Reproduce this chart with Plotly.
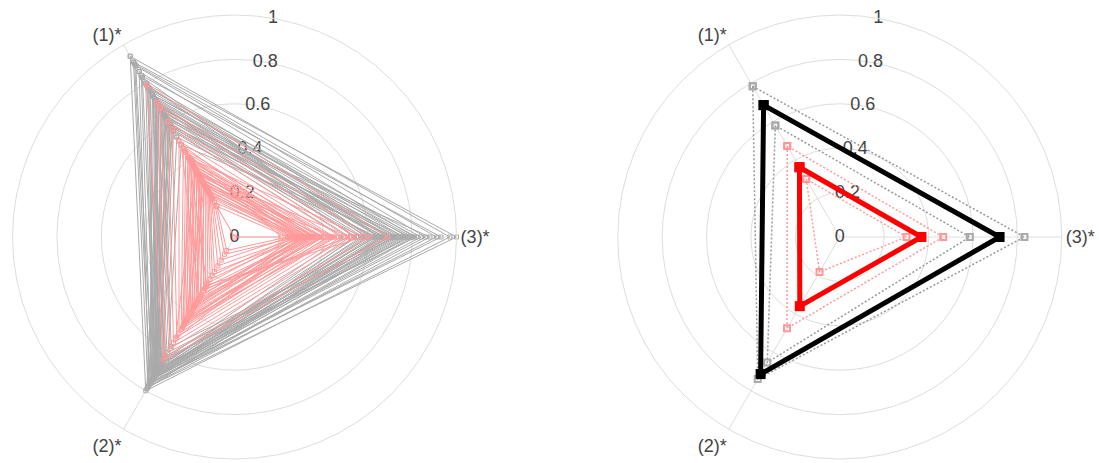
import plotly.graph_objects as go

# Axis order around the circle: (3)* at 0 deg, (1)* at 120 deg, (2)* at 240 deg
axis_labels = ["(1)*", "(2)*", "(3)*"]
axis_angles = [120, 240, 0]
radial_ticks = [0, 0.2, 0.4, 0.6, 0.8, 1]
radial_ticktext = ["0", "0.2", "0.4", "0.6", "0.8", "1"]
radial_label_angle = 80

# Group A profiles (grey): values on (1)*, (2)*, (3)*
group_a = [
    [0.94, 0.80, 0.97], [0.91, 0.78, 1.00], [0.90, 0.76, 0.91], [0.89, 0.74, 0.86],
    [0.86, 0.77, 0.81], [0.84, 0.75, 0.93], [0.80, 0.73, 0.78], [0.78, 0.72, 0.76],
    [0.77, 0.74, 0.84], [0.76, 0.70, 0.73], [0.74, 0.76, 0.80], [0.73, 0.71, 0.72],
    [0.72, 0.69, 0.70], [0.71, 0.73, 0.67], [0.70, 0.72, 0.75], [0.69, 0.70, 0.65],
    [0.68, 0.74, 0.69], [0.67, 0.68, 0.79], [0.66, 0.71, 0.62], [0.65, 0.73, 0.71],
    [0.64, 0.69, 0.60], [0.63, 0.72, 0.66], [0.62, 0.67, 0.58], [0.61, 0.70, 0.74],
    [0.60, 0.66, 0.55], [0.59, 0.71, 0.63], [0.58, 0.68, 0.52], [0.57, 0.65, 0.68],
    [0.56, 0.69, 0.57], [0.55, 0.64, 0.49], [0.62, 0.78, 0.88], [0.79, 0.66, 0.61],
    [0.52, 0.62, 0.64], [0.66, 0.57, 0.70], [0.83, 0.71, 0.59], [0.70, 0.75, 0.54],
    [0.48, 0.60, 0.72], [0.74, 0.63, 0.82], [0.58, 0.74, 0.77], [0.68, 0.79, 0.66],
]

# Group B profiles (pink): values on (1)*, (2)*, (3)*
group_b = [
    [0.79, 0.64, 0.69], [0.70, 0.62, 0.61], [0.67, 0.58, 0.54], [0.60, 0.55, 0.51],
    [0.56, 0.52, 0.48], [0.50, 0.50, 0.45], [0.46, 0.48, 0.42], [0.44, 0.46, 0.44],
    [0.42, 0.45, 0.40], [0.41, 0.43, 0.38], [0.40, 0.47, 0.36], [0.39, 0.41, 0.43],
    [0.38, 0.44, 0.35], [0.37, 0.40, 0.39], [0.36, 0.38, 0.33], [0.35, 0.42, 0.37],
    [0.34, 0.36, 0.31], [0.33, 0.39, 0.34], [0.32, 0.34, 0.40], [0.31, 0.37, 0.30],
    [0.30, 0.33, 0.36], [0.30, 0.30, 0.32], [0.29, 0.35, 0.28], [0.28, 0.28, 0.34],
    [0.27, 0.31, 0.29], [0.26, 0.26, 0.33], [0.25, 0.24, 0.27], [0.24, 0.22, 0.30],
    [0.23, 0.20, 0.26], [0.22, 0.18, 0.31], [0.21, 0.15, 0.29], [0.20, 0.12, 0.25],
    [0.18, 0.09, 0.28], [0.16, 0.07, 0.24], [0.45, 0.00, 0.21], [0.33, 0.27, 0.52],
    [0.48, 0.32, 0.35], [0.27, 0.44, 0.46], [0.41, 0.25, 0.58], [0.35, 0.53, 0.30],
]

# Summary profiles: centre line with lower/upper bands
group_a_center = [0.686, 0.713, 0.720]
group_a_lower = [0.580, 0.653, 0.586]
group_a_upper = [0.784, 0.739, 0.832]
group_b_center = [0.363, 0.360, 0.368]
group_b_lower = [0.302, 0.182, 0.301]
group_b_upper = [0.473, 0.475, 0.466]

GREY = "#aaaaaa"
PINK = "#ff9999"
DOTS = "2px,2px"


def closed(values):
    r = list(values) + [values[0]]
    t = axis_angles + [axis_angles[0]]
    return r, t


fig = go.Figure()

# Radial tick labels, centred on the radial spoke and drawn beneath the profiles
for sp in ("polar", "polar2"):
    fig.add_trace(go.Scatterpolar(
        r=radial_ticks, theta=[radial_label_angle] * len(radial_ticks),
        mode="text", text=radial_ticktext, textposition="middle center",
        textfont=dict(size=18, color="#444444"), subplot=sp,
        hoverinfo="skip", showlegend=False))

for prof in group_a:
    r, t = closed(prof)
    fig.add_trace(go.Scatterpolar(
        r=r, theta=t, mode="lines+markers", subplot="polar",
        line=dict(color=GREY, width=1),
        marker=dict(symbol="square-open", size=4, color=GREY),
        showlegend=False))

for prof in group_b:
    r, t = closed(prof)
    fig.add_trace(go.Scatterpolar(
        r=r, theta=t, mode="lines+markers", subplot="polar",
        line=dict(color=PINK, width=1),
        marker=dict(symbol="square-open", size=4, color=PINK),
        showlegend=False))

for band in (group_a_upper, group_a_lower):
    r, t = closed(band)
    fig.add_trace(go.Scatterpolar(
        r=r, theta=t, mode="lines+markers", subplot="polar2",
        line=dict(color="#999999", width=1.5, dash=DOTS),
        marker=dict(symbol="square-open", size=6, color="#aaaaaa", line=dict(width=2)),
        showlegend=False))

r, t = closed(group_a_center)
fig.add_trace(go.Scatterpolar(
    r=r, theta=t, mode="lines+markers", subplot="polar2",
    line=dict(color="black", width=5),
    marker=dict(symbol="square", size=10, color="black"),
    showlegend=False))

for band in (group_b_upper, group_b_lower):
    r, t = closed(band)
    fig.add_trace(go.Scatterpolar(
        r=r, theta=t, mode="lines+markers", subplot="polar2",
        line=dict(color=PINK, width=1.5, dash=DOTS),
        marker=dict(symbol="square-open", size=6, color=PINK, line=dict(width=2)),
        showlegend=False))

r, t = closed(group_b_center)
fig.add_trace(go.Scatterpolar(
    r=r, theta=t, mode="lines+markers", subplot="polar2",
    line=dict(color="red", width=5),
    marker=dict(symbol="square", size=10, color="red"),
    showlegend=False))

polar_common = dict(
    bgcolor="white",
    radialaxis=dict(
        range=[0, 1], tickmode="array", tickvals=radial_ticks, showticklabels=False,
        angle=radial_label_angle, showline=False, ticks="", gridcolor="#dddddd",
    ),
    angularaxis=dict(
        tickmode="array", tickvals=axis_angles, ticktext=axis_labels,
        rotation=0, direction="counterclockwise", showline=True, linecolor="#dddddd",
        linewidth=1, ticks="", gridcolor="#dddddd",
        tickfont=dict(size=18, color="#444444"),
    ),
)

fig.update_layout(
    width=1099, height=463,
    margin=dict(l=0, r=0, t=15, b=4),
    paper_bgcolor="white", plot_bgcolor="white",
    font=dict(family="Liberation Sans, Arial, sans-serif", color="#444444"),
    polar=dict(domain=dict(x=[0.0, 0.4268], y=[0, 1]), **polar_common),
    polar2=dict(domain=dict(x=[0.5507, 0.9775], y=[0, 1]), **polar_common),
    showlegend=False,
)

fig.write_html("out.html")
